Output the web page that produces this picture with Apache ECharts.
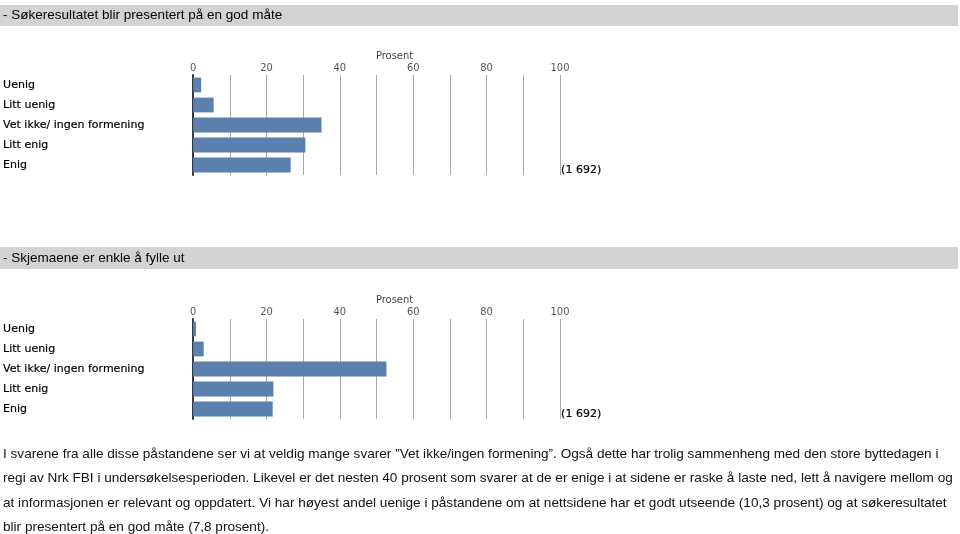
<!DOCTYPE html>
<html><head><meta charset="utf-8">
<script src="https://cdn.jsdelivr.net/npm/echarts@6/dist/echarts.min.js"></script>
<style>html,body{margin:0;padding:0;background:#fff}#c{width:960px;height:534px}</style>
</head><body><div id="c"></div>
<script>
const categories = ['Uenig', 'Litt uenig', 'Vet ikke/ ingen formening', 'Litt enig', 'Enig'];
const values1 = [2.2, 5.6, 35.0, 30.6, 26.6];
const values2 = [0.8, 2.9, 52.7, 21.9, 21.7];
const title1 = '- Søkeresultatet blir presentert på en god måte';
const title2 = '- Skjemaene er enkle å fylle ut';
const axisName = 'Prosent';
const countLabel = '(1 692)';
const paragraph = [
  'I svarene fra alle disse påstandene ser vi at veldig mange svarer ”Vet ikke/ingen formening”. Også dette har trolig sammenheng med den store byttedagen i',
  'regi av Nrk FBI i undersøkelsesperioden. Likevel er det nesten 40 prosent som svarer at de er enige i at sidene er raske å laste ned, lett å navigere mellom og',
  'at informasjonen er relevant og oppdatert. Vi har høyest andel uenige i påstandene om at nettsidene har et godt utseende (10,3 prosent) og at søkeresultatet',
  'blir presentert på en god måte (7,8 prosent).'
];

const chart = echarts.init(document.getElementById('c'), null, {renderer: 'canvas'});
const CONDENSED = "'DejaVu Sans Condensed', 'DejaVu Sans'";
function xAx(gi) {
  return {
    gridIndex: gi, type: 'value', position: 'top', min: 0, max: 100, interval: 10,
    name: axisName, nameLocation: 'middle', nameGap: 9,
    nameTextStyle: {fontFamily: CONDENSED, fontSize: 11, color: '#444', padding: [0, 0, 0, 36]},
    axisLine: {show: false}, axisTick: {show: false},
    axisLabel: {fontFamily: CONDENSED, fontSize: 11, color: '#555', margin: 1,
      formatter: v => (v % 20 === 0 ? String(v) : '')},
    splitLine: {show: true, lineStyle: {color: '#a8a8a8', width: 1}}
  };
}
function yAx(gi) {
  return {
    gridIndex: gi, type: 'category', data: categories, inverse: true,
    axisLine: {show: true, lineStyle: {color: '#2e3a4a', width: 2}}, axisTick: {show: false},
    axisLabel: {fontFamily: 'DejaVu Sans', fontSize: 11, color: '#000', align: 'left', margin: 190,
      textBorderColor: '#000', textBorderWidth: 0.2}
  };
}
const bar = (xi, data) => ({
  type: 'bar', xAxisIndex: xi, yAxisIndex: xi, data: data, barCategoryGap: '26%',
  itemStyle: {color: '#5b80ad'}, silent: true, animation: false
});
const FONT = '13.6px "Liberation Sans", Arial, sans-serif';
const texts = paragraph.map((t, i) => ({
  type: 'text', left: 3, top: 447 + i * 24.5,
  style: {text: t, font: FONT, fill: '#111'}
}));
chart.setOption({
  animation: false,
  grid: [
    {left: 192, width: 368, top: 75, height: 100},
    {left: 192, width: 368, top: 319, height: 100}
  ],
  xAxis: [xAx(0), xAx(1)],
  yAxis: [yAx(0), yAx(1)],
  series: [bar(0, values1), bar(1, values2)],
  graphic: [
    {type: 'rect', shape: {x: 0, y: 5, width: 958, height: 21}, style: {fill: '#d3d3d3'}},
    {type: 'rect', shape: {x: 0, y: 247, width: 958, height: 22}, style: {fill: '#d3d3d3'}},
    {type: 'text', left: 3, top: 8.5, style: {text: title1, font: '13.5px "Liberation Sans", Arial, sans-serif', fill: '#000'}},
    {type: 'text', left: 3, top: 251, style: {text: title2, font: '13.5px "Liberation Sans", Arial, sans-serif', fill: '#000'}},
    {type: 'text', left: 561, top: 165, style: {text: countLabel, font: '11px "DejaVu Sans"', fill: '#000', stroke: '#000', lineWidth: 0.2}},
    {type: 'text', left: 561, top: 409, style: {text: countLabel, font: '11px "DejaVu Sans"', fill: '#000', stroke: '#000', lineWidth: 0.2}}
  ].concat(texts)
});
</script></body></html>
